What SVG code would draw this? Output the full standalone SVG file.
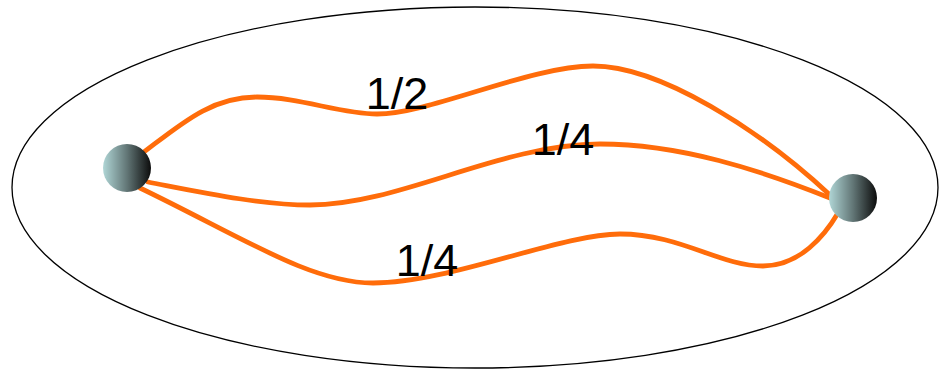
<svg xmlns="http://www.w3.org/2000/svg" width="939" height="370" viewBox="0 0 939 370">
  <style>
    .edge { fill: none; stroke: #ff6c0a; stroke-width: 4.8; stroke-linecap: round; }
    .lbl { font-family: "Liberation Sans", Arial, sans-serif; font-size: 45px; fill: #000; text-anchor: middle; }
    .ball { fill: url(#ballGrad); }
  </style>
  <defs>
    <linearGradient id="ballGrad" x1="0" y1="0" x2="1" y2="0">
      <stop offset="0" stop-color="#b0d6d6"/>
      <stop offset="0.5" stop-color="#627676"/>
      <stop offset="1" stop-color="#0c0c0c"/>
    </linearGradient>
  </defs>
  <rect width="939" height="370" fill="#fff"/>
  <ellipse id="boundary" cx="475" cy="187.5" rx="463" ry="180.5" fill="none" stroke="#000" stroke-width="1.3"/>
  <g id="connectors">
    <path class="edge" d="M140,155 C180,125 210,97 257,97 C300,97 340,114 377,114 C430,114 530,66 593,66 C660,66 760,130 830,195"/>
    <path class="edge" d="M148,182 C200,192 260,205 310,205 C400,205 500,144 600,144 C680,144 760,170 830,198"/>
    <path class="edge" d="M140,188 C240,236 310,283 373,283 C450,283 560,234 620,234 C680,234 720,266 763,266 C800,266 825,235 838,213"/>
  </g>
  <g id="node-left">
    <circle class="ball" cx="127" cy="168" r="24"/>
  </g>
  <g id="node-right">
    <circle class="ball" cx="853" cy="198" r="24"/>
  </g>
  <g id="labels">
    <text class="lbl" x="397" y="109">1/2</text>
    <text class="lbl" x="563" y="155">1/4</text>
    <text class="lbl" x="427" y="276">1/4</text>
  </g>
</svg>
